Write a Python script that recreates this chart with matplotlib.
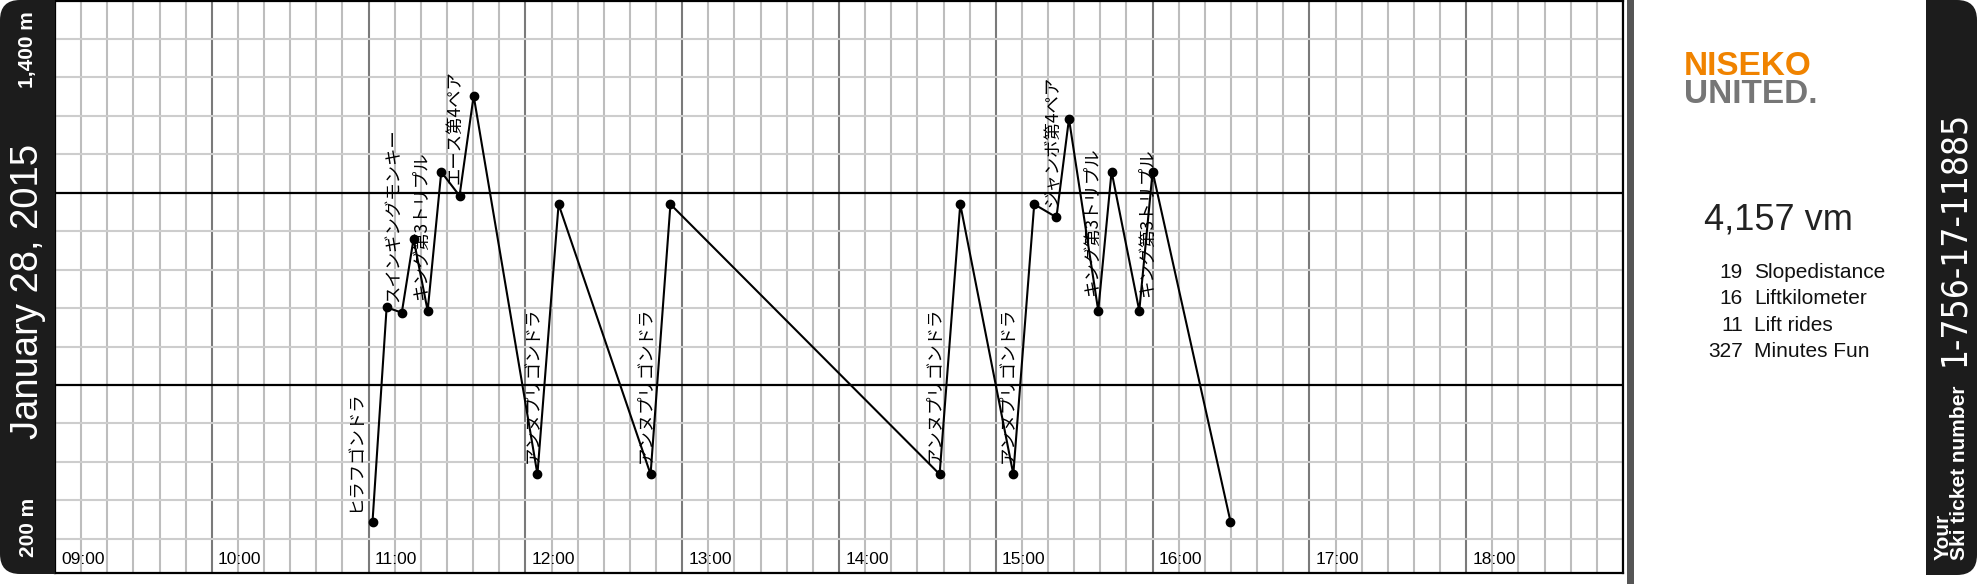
import matplotlib
matplotlib.use('Agg')
import numpy as np
import matplotlib.pyplot as plt
from matplotlib.patches import FancyBboxPatch, Rectangle
from matplotlib.transforms import IdentityTransform
from matplotlib import font_manager

# ski day: time of each gps fix and elevation in metres
times = ['11:01:30', '11:06:54', '11:12:42', '11:17:12', '11:22:36', '11:27:48',
         '11:34:48', '11:40:12', '12:04:36', '12:12:42', '12:47:54', '12:55:30',
         '14:38:30', '14:46:24', '15:06:42', '15:14:42', '15:23:12', '15:28:00',
         '15:39:12', '15:44:18', '15:54:54', '16:00:00', '16:29:48']
elevations = [145, 702, 688, 880, 693, 1054, 992, 1252, 268, 970, 268, 970,
              268, 970, 268, 970, 936, 1192, 693, 1055, 693, 1055, 145]

# lift rides: index of the point where the ride starts, and lift name
lift_start = [0, 2, 4, 6, 8, 10, 12, 14, 16, 18, 20]
lift_names = ['ヒラフゴンドラ', 'スインギングモンキー', 'キング第3トリプル', 'エース第4ペア',
              'アンヌプリゴンドラ', 'アンヌプリゴンドラ', 'アンヌプリゴンドラ', 'アンヌプリゴンドラ',
              'ジャンボ第4ペア', 'キング第3トリプル', 'キング第3トリプル']
# label nudges in pixels (left/right, up)
label_dx = [-17, -9, -7, -5, -6, -6, -6, -6, -4, -6, 8]
label_up = [10, 11, 11, 12, 11, 11, 11, 11, 10, 15, 14]

hour_labels = ['09:00', '10:00', '11:00', '12:00', '13:00', '14:00', '15:00',
               '16:00', '17:00', '18:00']

date_text = 'January 28, 2015'
elev_top_label = '1,400 m'
elev_bottom_label = '200 m'
vertical_meters = '4,157 vm'
stat_values = ['19', '16', '11', '327']
stat_names = ['Slopedistance', 'Liftkilometer', 'Lift rides', 'Minutes Fun']
ticket_number = '1-756-17-11885'

W, H = 1977, 584
plt.rcParams['font.family'] = ['Liberation Sans', 'Noto Sans CJK JP', 'DejaVu Sans']

hours = []
for t in times:
    h, m, s = t.split(':')
    hours.append(int(h) + int(m) / 60 + int(s) / 3600)

fig = plt.figure(figsize=(W / 100, H / 100), dpi=100)
fig.patch.set_facecolor('white')


def fx(x):
    return x / W


def fy(y):
    return 1 - y / H


ax = fig.add_axes([fx(55), fy(572.5), (1623 - 55) / W, (572.5 - 1) / H])
ax.set_xlim(9, 19)
ax.set_ylim(12.5, 1498.4)

ax.set_xticks(np.arange(9, 19.01, 1))
ax.set_xticks(np.arange(9, 19.01, 1 / 6), minor=True)
ax.set_yticks([500, 1000])
ax.set_yticks(np.arange(100, 1500, 100), minor=True)
ax.grid(which='minor', axis='x', color='#bdbdbd', lw=1.5)
ax.grid(which='minor', axis='y', color='#cdcdcd', lw=1.5)
ax.grid(which='major', axis='x', color='#7a7a7a', lw=1.5)
ax.grid(which='major', axis='y', color='black', lw=1.6)
ax.tick_params(which='both', length=0, labelbottom=False, labelleft=False)
ax.set_axisbelow(True)
for sp in ax.spines.values():
    sp.set_linewidth(1.6)
    sp.set_color('black')

ax.plot(hours, elevations, color='black', lw=1.5, marker='o', ms=6, zorder=3)

for k, i in enumerate(lift_start):
    ax.annotate(lift_names[k], (hours[i], elevations[i]),
                xytext=(label_dx[k] * 0.72, label_up[k] * 0.72), textcoords='offset points',
                rotation=90, ha='center', va='bottom', fontsize=12.5,
                family=['Noto Sans CJK JP', 'DejaVu Sans'], color='black', zorder=4)

for h, lab in zip(range(9, 19), hour_labels):
    ax.annotate(lab, (h, 0), xycoords=('data', 'axes fraction'),
                xytext=(4.5, 6.2), textcoords='offset points',
                ha='left', va='baseline', fontsize=12.5, color='black')

# left date bar
fig.add_artist(FancyBboxPatch((0, 10), 55, 574, boxstyle='round,pad=0,rounding_size=20',
                              transform=IdentityTransform(), fc='#1c1c1c', ec='none'))
fig.add_artist(Rectangle((30, 10), 25, 574, transform=IdentityTransform(),
                         fc='#1c1c1c', ec='none'))
fig.text(fx(28), fy(291), date_text, rotation=90, ha='center', va='center',
         fontsize=27.5, color='white')
fig.text(fx(28), fy(50), elev_top_label, rotation=90, ha='center', va='center',
         fontsize=15, fontweight='bold', color='white')
fig.text(fx(28), fy(527), elev_bottom_label, rotation=90, ha='center', va='center',
         fontsize=15, fontweight='bold', color='white')

# separator and right ticket bar
fig.add_artist(Rectangle((1627, 0), 7, H, transform=IdentityTransform(),
                         fc='#555555', ec='none'))
fig.add_artist(FancyBboxPatch((1926, 9), 51, 575, boxstyle='round,pad=0,rounding_size=20',
                              transform=IdentityTransform(), fc='#1c1c1c', ec='none'))
fig.add_artist(Rectangle((1926, 9), 25, 575, transform=IdentityTransform(),
                         fc='#1c1c1c', ec='none'))

# logo
fig.text(fx(1684), fy(75), 'NISEKO', fontsize=24, fontweight='bold', color='#f08300',
         ha='left', va='baseline')
fig.text(fx(1684), fy(102.7), 'UNITED.', fontsize=24, fontweight='bold', color='#767676',
         ha='left', va='baseline')

# stats
fig.text(fx(1704), fy(230), vertical_meters, fontsize=26, color='#222222',
         ha='left', va='baseline')
for r, (v, n) in enumerate(zip(stat_values, stat_names)):
    y = 277.5 + r * 26.6
    fig.text(fx(1743), fy(y), v, fontsize=15, color='#111111', ha='right', va='baseline')
    fig.text(fx(1754), fy(y), n, fontsize=15, color='#111111', ha='left', va='baseline')

# ticket number, prefer a condensed DejaVu face if it is installed
ticket_font = None
for f in font_manager.fontManager.ttflist:
    if f.fname.endswith('DejaVuSansCondensed.ttf'):
        ticket_font = font_manager.FontProperties(fname=f.fname, size=25.3)
if ticket_font is None:
    ticket_font = font_manager.FontProperties(family='Liberation Sans', size=25.8)
fig.text(fx(1954), fy(238.5), ticket_number, rotation=90, ha='center', va='center',
         fontproperties=ticket_font, color='white')
fig.text(fx(1951), fy(560), 'Your\nSki ticket number', rotation=90, ha='center',
         va='bottom', multialignment='left', linespacing=0.85, fontsize=15,
         fontweight='bold', color='white')

fig.savefig('out.png', dpi=100)
